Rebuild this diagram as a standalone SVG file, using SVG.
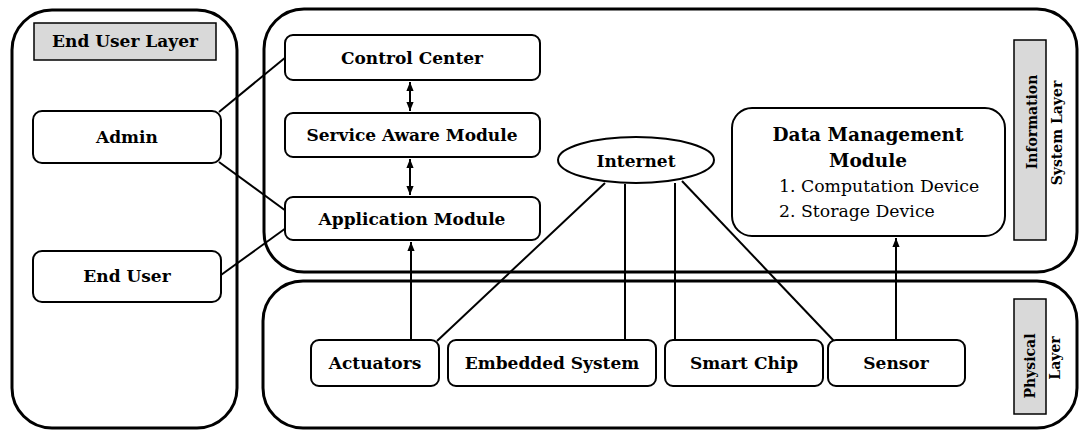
<svg xmlns="http://www.w3.org/2000/svg" width="1081" height="430" viewBox="0 0 1081 430">
<defs>
<style>
.layer{fill:#fff;stroke:#000;stroke-width:3}
.node{fill:#fff;stroke:#000;stroke-width:2}
.tag{fill:#d9d9d9;stroke:#000;stroke-width:1.5}
.t{font-family:"DejaVu Serif","Liberation Serif",serif;font-weight:bold;font-size:17px;fill:#000;text-anchor:middle;dominant-baseline:central}
.rot{font-size:14px}
.title{font-size:18.5px}
.reg{font-family:"DejaVu Serif","Liberation Serif",serif;font-size:17.3px;fill:#000;dominant-baseline:central}
.c{fill:none;stroke:#000;stroke-width:2}
</style>
<marker id="ah2" viewBox="0 0 10 10" refX="10" refY="5" markerWidth="9" markerHeight="9" orient="auto-start-reverse" markerUnits="userSpaceOnUse">
<path d="M0,1 L10,5 L0,9 z" fill="#000"/>
</marker>
</defs>

<g id="end-user-layer">
<rect class="layer" x="12" y="10" width="225" height="418" rx="40"/>
<rect class="tag" x="34" y="23" width="182" height="37"/>
<text class="t" x="125" y="41">End User Layer</text>
</g>
<g id="information-system-layer">
<rect class="layer" x="264" y="9" width="813" height="263" rx="40"/>
<rect class="tag" x="1014" y="40" width="32" height="200"/>
<text class="t rot" transform="translate(1032,122) rotate(-90)">Information</text>
<text class="t rot" transform="translate(1057,133) rotate(-90)">System Layer</text>
</g>
<g id="physical-layer">
<rect class="layer" x="263" y="281" width="814" height="147" rx="40"/>
<rect class="tag" x="1014" y="299" width="32" height="115"/>
<text class="t rot" transform="translate(1030,366) rotate(-90)">Physical</text>
<text class="t rot" transform="translate(1055,358) rotate(-90)">Layer</text>
</g>

<g id="connectors">
<line class="c" x1="219" y1="112" x2="286" y2="57"/>
<line class="c" x1="219" y1="162" x2="286" y2="211"/>
<line class="c" x1="221" y1="275" x2="286" y2="228"/>
<line class="c" x1="410" y1="82" x2="410" y2="111" marker-start="url(#ah2)" marker-end="url(#ah2)"/>
<line class="c" x1="410" y1="159" x2="410" y2="195" marker-start="url(#ah2)" marker-end="url(#ah2)"/>
<line class="c" x1="411" y1="340" x2="411" y2="242" marker-end="url(#ah2)"/>
<line class="c" x1="896" y1="340" x2="896" y2="238" marker-end="url(#ah2)"/>
<line class="c" x1="605" y1="183" x2="437" y2="341"/>
<line class="c" x1="625" y1="184" x2="625" y2="341"/>
<line class="c" x1="675" y1="183" x2="675" y2="341"/>
<line class="c" x1="682" y1="181" x2="834" y2="341"/>
</g>

<g id="admin"><rect class="node" x="33" y="111" width="188" height="52" rx="9"/><text class="t" x="127" y="137">Admin</text></g>
<g id="end-user"><rect class="node" x="33" y="251" width="188" height="51" rx="9"/><text class="t" x="127" y="276">End User</text></g>
<g id="control-center"><rect class="node" x="285" y="35" width="255" height="45" rx="8"/><text class="t" x="412" y="58">Control Center</text></g>
<g id="service-aware-module"><rect class="node" x="285" y="113" width="255" height="44" rx="8"/><text class="t" x="412" y="135">Service Aware Module</text></g>
<g id="application-module"><rect class="node" x="285" y="197" width="255" height="43" rx="8"/><text class="t" x="412" y="219">Application Module</text></g>
<g id="internet"><ellipse class="node" cx="636" cy="160" rx="78" ry="23" stroke-width="3"/><text class="t" x="636" y="161">Internet</text></g>
<g id="data-management-module">
<rect class="node" x="732" y="108" width="273" height="128" rx="20"/>
<text class="t title" x="868" y="134">Data Management</text>
<text class="t title" x="868" y="160">Module</text>
<text class="reg" x="779" y="186">1.  Computation Device</text>
<text class="reg" x="779" y="211">2.  Storage Device</text>
</g>
<g id="actuators"><rect class="node" x="311" y="340" width="128" height="46" rx="8"/><text class="t" x="375" y="363">Actuators</text></g>
<g id="embedded-system"><rect class="node" x="448" y="340" width="208" height="46" rx="8"/><text class="t" x="552" y="363">Embedded System</text></g>
<g id="smart-chip"><rect class="node" x="665" y="340" width="158" height="46" rx="8"/><text class="t" x="744" y="363">Smart Chip</text></g>
<g id="sensor"><rect class="node" x="828" y="340" width="137" height="46" rx="8"/><text class="t" x="896" y="363">Sensor</text></g>
</svg>
